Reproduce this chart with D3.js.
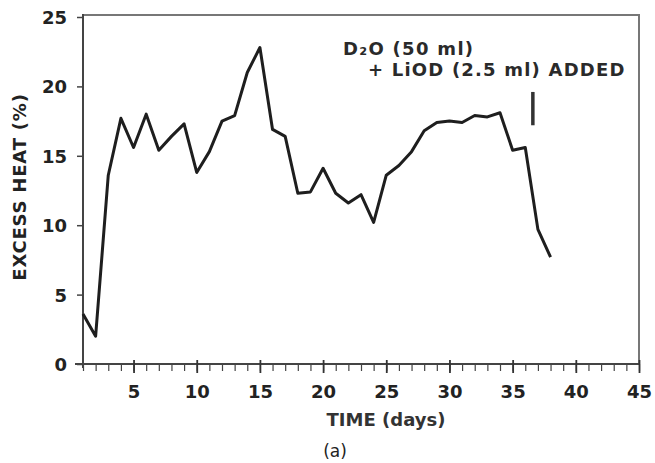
<!DOCTYPE html>
<html>
<head>
<meta charset="utf-8">
<script src="https://cdn.jsdelivr.net/npm/d3@7"></script>
<style>
  body { margin: 0; background: #fff; }
  text { font-family: "DejaVu Sans", sans-serif; fill: #222; }
</style>
</head>
<body>
<div id="chart"></div>
<script>
// excess heat, one value per day
var days = [1,2,3,4,5,6,7,8,9,10,11,12,13,14,15,16,17,18,19,20,21,22,23,24,25,26,27,28,29,30,31,32,33,34,35,36,37,38]
var excessHeat = [3.6,2.0,13.6,17.7,15.6,18.0,15.4,16.4,17.3,13.8,15.3,17.5,17.9,21.0,22.8,16.9,16.4,12.3,12.4,14.1,12.3,11.6,12.2,10.2,13.6,14.3,15.3,16.8,17.4,17.5,17.4,17.9,17.8,18.1,15.4,15.6,9.7,7.7]
var xTicks = [5,10,15,20,25,30,35,40,45]
var yTicks = [0,5,10,15,20,25]
var addedDay = 36.6
var noteLines = ['D\u2082O (50 ml)', '+ LiOD (2.5 ml) ADDED']

var W = 655, H = 463
// plot box (don't call these top/left, window.top is taken)
var pl = 83, pr = 639, pt = 17, pb = 364

var svg = d3.select('#chart').append('svg')
  .attr('width', W)
  .attr('height', H)

var x = d3.scaleLinear().domain([1, 45]).range([pl, pr])
var y = d3.scaleLinear().domain([0, 25]).range([pb, pt])

// frame: top and right lighter than the axes
svg.append('path')
  .attr('d', 'M' + pl + ',' + (pt - 2) + 'H' + pr + 'V' + pb)
  .attr('fill', 'none')
  .attr('stroke', '#777')
  .attr('stroke-width', 2)

// y axis
var yAxis = svg.append('g')
  .attr('transform', 'translate(' + pl + ',0)')
  .call(d3.axisLeft(y).tickValues(yTicks).tickSize(6).tickPadding(10))
yAxis.select('.domain').attr('stroke', '#444').attr('stroke-width', 2)
  .attr('d', 'M0,' + (pt - 3) + 'V' + (pb + 4))
yAxis.selectAll('.tick line').attr('stroke', '#444').attr('stroke-width', 1.5)
yAxis.selectAll('.tick text')
  .style('font-size', '18px').style('font-weight', 'bold')
  .attr('fill', '#222').attr('dy', '0.36em')

// x axis, minor ticks every day
var xMinor = svg.append('g')
  .attr('transform', 'translate(0,' + pb + ')')
  .call(d3.axisBottom(x).tickValues(d3.range(1, 46)).tickSize(7).tickFormat(''))
xMinor.select('.domain').attr('stroke', '#444').attr('stroke-width', 2)
  .attr('d', 'M' + (pl - 8) + ',0H' + pr)
xMinor.selectAll('.tick line').attr('stroke', '#444').attr('stroke-width', 1.2)

var xAxis = svg.append('g')
  .attr('transform', 'translate(0,' + pb + ')')
  .call(d3.axisBottom(x).tickValues(xTicks).tickSize(9).tickPadding(12))
xAxis.select('.domain').remove()
xAxis.selectAll('.tick line').attr('stroke', '#333').attr('stroke-width', 1.8).attr('y1', -4)
xAxis.selectAll('.tick text')
  .style('font-size', '18px').style('font-weight', 'bold')
  .attr('fill', '#222')

// axis titles
svg.append('text')
  .attr('x', 386).attr('y', 426)
  .attr('text-anchor', 'middle')
  .style('font-size', '18px').style('font-weight', 'bold')
  .style('fill', '#333')
  .text('TIME (days)')

svg.append('text')
  .attr('transform', 'translate(26,187) rotate(-90)')
  .attr('text-anchor', 'middle')
  .style('font-size', '18px').style('font-weight', 'bold')
  .style('letter-spacing', '0.8px')
  .text('EXCESS HEAT (%)')

svg.append('text')
  .attr('x', 335).attr('y', 457)
  .attr('text-anchor', 'middle')
  .style('font-size', '17px')
  .text('(a)')

// data line
var line = d3.line()
  .x(function(d, i){ return x(days[i]) })
  .y(function(d){ return y(d) })

svg.append('path')
  .datum(excessHeat)
  .attr('d', line)
  .attr('fill', 'none')
  .attr('stroke', '#1e1e1e')
  .attr('stroke-width', 3)
  .attr('stroke-linejoin', 'round')

// annotation
svg.append('line')
  .attr('x1', x(addedDay)).attr('x2', x(addedDay))
  .attr('y1', y(19.6)).attr('y2', y(17.2))
  .attr('stroke', '#333')
  .attr('stroke-width', 3.5)

svg.append('text')
  .attr('x', 343).attr('y', 55)
  .style('font-size', '18px').style('font-weight', 'bold')
  .style('letter-spacing', '1.3px')
  .style('fill', '#2a2a2a')
  .text(noteLines[0])

svg.append('text')
  .attr('x', 368).attr('y', 76)
  .style('font-size', '18px').style('font-weight', 'bold')
  .style('letter-spacing', '1.2px')
  .style('fill', '#2a2a2a')
  .text(noteLines[1])
</script>
</body>
</html>
